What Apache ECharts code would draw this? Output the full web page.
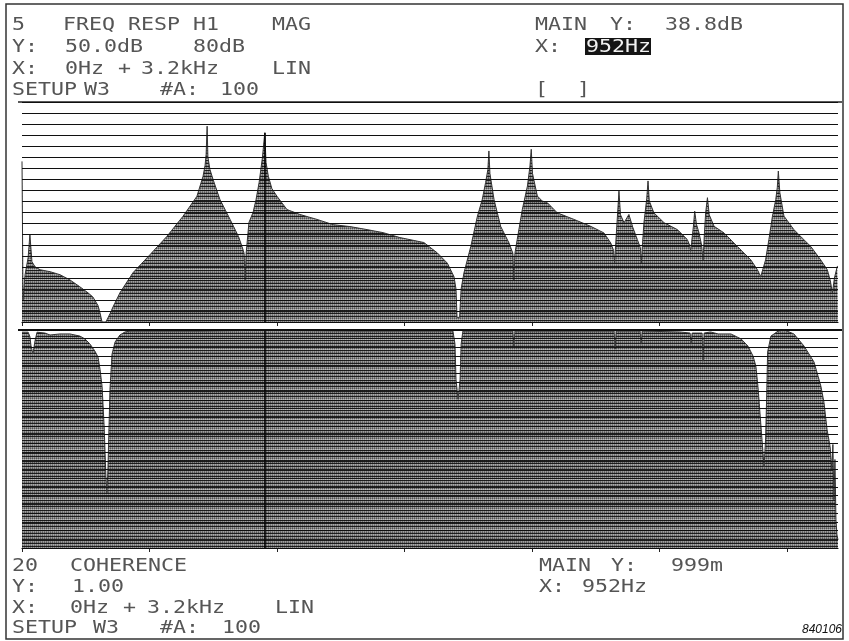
<!DOCTYPE html>
<html><head><meta charset="utf-8">
<script src="https://cdn.jsdelivr.net/npm/echarts@6/dist/echarts.min.js"></script>
<style>html,body{margin:0;padding:0;background:#fff}#c{width:849px;height:641px}</style>
</head><body><div id="c"></div>
<script>
// ---------------- data ----------------
const freqTicksHz = [0, 500, 1000, 1500, 2000, 2500, 3000];
const freqSpanHz = [0, 3200];
const magRangeDb = [-30, 50];          // 50.0 dB reference, 80 dB range
const cohRange = [0, 1];
const cursorHz = 952, cursorMagDb = 38.8, cursorCoh = 0.999;

// frequency response H1 magnitude [Hz, dB]
const magDb = [[0,28.4],[4,-22.0],[12,-12.8],[24,-6.6],[31,1.8],[39,-8.1],[51,-9.9],[71,-11.0],[110,-11.7],[149,-12.8],[188,-14.7],[227,-17.2],[259,-19.4],[278,-20.9],[298,-24.0],[306,-26.7],[314,-30],[329,-30],[337,-28.5],[345,-27.0],[357,-24.5],[384,-19.4],[435,-12.1],[502,-5.5],[568,1.1],[631,8.4],[686,15.7],[710,23.0],[718,27.0],[722,31.0],[726,41.2],[729,30.0],[737,25.5],[749,21.9],[776,14.6],[816,7.3],[849,1.1],[863,-2.6],[871,-5.0],[875,-14.7],[879,-5.0],[890,6.2],[906,9.8],[918,14.6],[930,20.8],[943,29.9],[952,38.8],[957,28.0],[966,23.0],[980,18.5],[1000,15.7],[1039,10.9],[1090,9.1],[1157,7.3],[1220,5.4],[1286,4.7],[1353,3.6],[1416,2.5],[1482,0.7],[1576,-1.1],[1629,-4.9],[1668,-8.6],[1694,-13.5],[1702,-18.0],[1706,-28.3],[1716,-28.3],[1722,-18.0],[1733,-12.2],[1760,-2.5],[1786,8.5],[1805,14.6],[1818,20.7],[1827,25.5],[1831,32.2],[1835,24.0],[1851,14.6],[1877,4.8],[1910,-1.3],[1925,-5.0],[1929,-14.7],[1933,-5.0],[1942,0.0],[1962,10.9],[1982,19.4],[1992,26.7],[1997,32.8],[2002,24.0],[2021,15.8],[2040,14.0],[2060,13.4],[2099,9.7],[2165,7.3],[2230,4.8],[2282,2.4],[2309,-1.3],[2320,-4.0],[2324,-8.6],[2328,-2.0],[2335,8.5],[2341,17.6],[2347,9.0],[2361,6.1],[2380,9.1],[2395,4.5],[2413,0.0],[2425,-3.0],[2429,-8.6],[2433,-2.0],[2439,6.1],[2450,15.0],[2455,21.3],[2460,14.0],[2478,9.7],[2518,6.1],[2570,3.6],[2609,0.0],[2618,-2.0],[2622,-4.3],[2626,-1.0],[2633,4.8],[2638,10.3],[2645,5.5],[2655,2.4],[2665,-2.0],[2671,-7.4],[2676,2.0],[2681,9.7],[2688,15.2],[2695,9.0],[2714,4.8],[2753,2.4],[2805,-2.5],[2858,-7.4],[2884,-11.0],[2897,-13.5],[2916,-7.4],[2929,0.0],[2943,8.5],[2956,14.6],[2962,19.0],[2966,24.9],[2972,17.0],[2988,8.5],[3027,3.6],[3060,0.5],[3093,-2.5],[3132,-7.4],[3158,-11.0],[3170,-15.0],[3178,-19.5],[3186,-14.0],[3197,-9.8],[3200,-9.8]];

// coherence [Hz, value]
const coherence = [[0,0.99],[12,0.99],[24,0.99],[31,0.97],[35,0.93],[43,0.89],[51,0.95],[59,0.99],[90,0.986],[110,0.977],[149,0.982],[188,0.982],[227,0.972],[247,0.959],[267,0.935],[286,0.903],[298,0.876],[306,0.82],[314,0.742],[322,0.56],[329,0.33],[333,0.253],[337,0.36],[345,0.728],[353,0.889],[365,0.945],[384,0.977],[404,0.991],[424,0.995],[700,0.995],[952,0.999],[1300,0.995],[1690,0.995],[1698,0.935],[1702,0.774],[1710,0.682],[1718,0.774],[1722,0.935],[1729,0.995],[1925,0.995],[1929,0.926],[1933,0.995],[2322,0.995],[2326,0.912],[2330,0.995],[2424,0.995],[2428,0.935],[2432,0.995],[2580,0.991],[2620,0.986],[2624,0.935],[2628,0.986],[2667,0.986],[2671,0.857],[2675,0.986],[2700,0.991],[2730,0.982],[2780,0.982],[2820,0.959],[2847,0.926],[2867,0.880],[2878,0.834],[2886,0.742],[2898,0.558],[2910,0.373],[2916,0.50],[2920,0.68],[2924,0.899],[2937,0.972],[2965,0.995],[2990,1.0],[3027,0.982],[3067,0.926],[3106,0.853],[3133,0.742],[3145,0.668],[3157,0.544],[3169,0.465],[3176,0.36],[3180,0.475],[3184,0.221],[3188,0.406],[3192,0.129],[3196,0.06],[3200,0.037]];

// display raster line counts
const magRasterLines = 20, cohRasterLines = 25;

// header texts
const topLeftText = [
  ['5','FREQ','RESP','H1','MAG'],
  ['Y:','50.0dB','80dB'],
  ['X:','0Hz','+','3.2kHz','LIN'],
  ['SETUP','W3','#A:','100']
];
const topRightText = [['MAIN','Y:','38.8dB'],['X:'],['[',']']];
const cursorReadout = '952Hz';
const botLeftText = [
  ['20','COHERENCE'],
  ['Y:','1.00'],
  ['X:','0Hz','+','3.2kHz','LIN'],
  ['SETUP','W3','#A:','100']
];
const botRightText = [['MAIN','Y:','999m'],['X:','952Hz']];
const figureId = '840106';

// ---------------- layout ----------------
const L = {
  topRows: [25, 47, 69, 90],
  botRows: [566, 587, 608, 628],
  topLeftX: [[12,63,128,193,272],[12,65,193],[12,65,118,141,272],[12,84,160,220]],
  topRightX: [[535,610,665],[535],[535,577]],
  botLeftX: [[12,70],[12,72],[12,70,123,147,275],[12,93,160,222]],
  botRightX: [[539,611,671],[539,582]]
};

function makePattern(){
  const c=document.createElement('canvas'); c.width=4; c.height=10;
  const g=c.getContext('2d');
  const rows=[['#191919','#202020'],['#707070','#a0a0a0'],['#555555','#8a8a8a'],['#191919','#202020'],['#808080','#aaaaaa'],['#646464','#969696'],['#191919','#202020'],['#707070','#a0a0a0'],['#555555','#8a8a8a'],['#969696','#bebebe']];
  rows.forEach((r,y)=>{for(let x=0;x<4;x++){g.fillStyle=r[x%2];g.fillRect(x,y,1,1);}});
  return c;
}
const pat = makePattern();

const FONT = '18px "DejaVu Sans Mono"';
function txt(x,y,s,fill){
  return {type:'text', x:x, y:y, scaleX:1.2, z:10,
    style:{text:s, font:FONT, fill:fill||'#555', verticalAlign:'middle', align:'left'}};
}
const graphics = [];
function addBlock(lines, xs, rows){
  lines.forEach((line,i)=>line.forEach((s,j)=>graphics.push(txt(xs[i][j], rows[i], s))));
}
addBlock(topLeftText, L.topLeftX, L.topRows);
addBlock(topRightText, L.topRightX, [L.topRows[0],L.topRows[1],L.topRows[3]]);
addBlock(botLeftText, L.botLeftX, L.botRows);
addBlock(botRightText, L.botRightX, L.botRows);
graphics.push({type:'rect', z:9, shape:{x:585,y:38,width:66,height:17}, style:{fill:'#151515'}});
graphics.push(txt(586, L.topRows[1]+0.5, cursorReadout, '#f2f2f2'));
graphics.push({type:'text', x:842, y:630, z:10, style:{text:figureId, font:'italic 12px "Liberation Sans"', fill:'#111', align:'right', verticalAlign:'middle'}});
// frame & separators
graphics.push({type:'rect', z:1, shape:{x:6,y:4,width:837,height:635}, style:{fill:null, stroke:'#333', lineWidth:1.5}});
graphics.push({type:'line', z:1, shape:{x1:18,y1:102,x2:842,y2:102}, style:{stroke:'#222', lineWidth:1.5}});
graphics.push({type:'line', z:1, shape:{x1:18,y1:330,x2:842,y2:330}, style:{stroke:'#111', lineWidth:2}});

const chart = echarts.init(document.getElementById('c'), null, {renderer:'canvas'});
const xCommon = {type:'value', min:freqSpanHz[0], max:freqSpanHz[1],
  axisLine:{show:true, onZero:false, lineStyle:{color:'#111', width:1.2}},
  axisTick:{show:true, length:4, customValues:freqTicksHz, lineStyle:{color:'#222', width:1}},
  axisLabel:{show:false}, splitLine:{show:false}};
const rasterAxis = (g,n)=>({type:'value', gridIndex:g, min:0, max:n, interval:1, position:'right',
  axisLine:{show:false}, axisTick:{show:false}, axisLabel:{show:false},
  splitLine:{show:true, lineStyle:{color:'#2a2a2a', width:1}}});
const rasterOverlay = (xi, yi, n)=>({type:'line', xAxisIndex:xi, yAxisIndex:yi, data:[[0,0]], symbol:'none',
  lineStyle:{opacity:0}, z:5, silent:true,
  markLine:{silent:true, symbol:'none', label:{show:false}, lineStyle:{color:'#0d0d0d', width:1, type:'solid', opacity:0.9},
    data:Array.from({length:n+1},(_,k)=>({yAxis:k}))}});

chart.setOption({
  animation:false,
  backgroundColor:'#fff',
  grid:[
    {left:22, right:11, top:102, height:220},
    {left:22, right:11, top:330, height:218}
  ],
  xAxis:[Object.assign({gridIndex:0}, xCommon), Object.assign({gridIndex:1}, xCommon)],
  yAxis:[
    {type:'value', gridIndex:0, min:magRangeDb[0], max:magRangeDb[1], show:false, splitLine:{show:false}},
    rasterAxis(0, magRasterLines),
    {type:'value', gridIndex:1, min:cohRange[0], max:cohRange[1], show:false, splitLine:{show:false}},
    rasterAxis(1, cohRasterLines)
  ],
  series:[
    {type:'line', xAxisIndex:0, yAxisIndex:0, data:magDb, symbol:'none', z:3,
      lineStyle:{color:'#333', width:1}, areaStyle:{color:{image:pat, repeat:'repeat'}, opacity:1, origin:'start'},
      markLine:{silent:true, symbol:'none', label:{show:false}, lineStyle:{color:'#000', width:1.5, type:'solid'},
        data:[[{coord:[cursorHz, magRangeDb[0]]},{coord:[cursorHz, cursorMagDb]}]]}},
    {type:'line', xAxisIndex:1, yAxisIndex:2, data:coherence, symbol:'none', z:3,
      lineStyle:{color:'#333', width:1}, areaStyle:{color:{image:pat, repeat:'repeat'}, opacity:1, origin:'start'},
      markLine:{silent:true, symbol:'none', label:{show:false}, lineStyle:{color:'#000', width:1.5, type:'solid'},
        data:[[{coord:[cursorHz, cohRange[0]]},{coord:[cursorHz, cursorCoh]}]]}},
    rasterOverlay(0, 1, magRasterLines),
    rasterOverlay(1, 3, cohRasterLines)
  ],
  graphic:graphics
});
</script></body></html>
